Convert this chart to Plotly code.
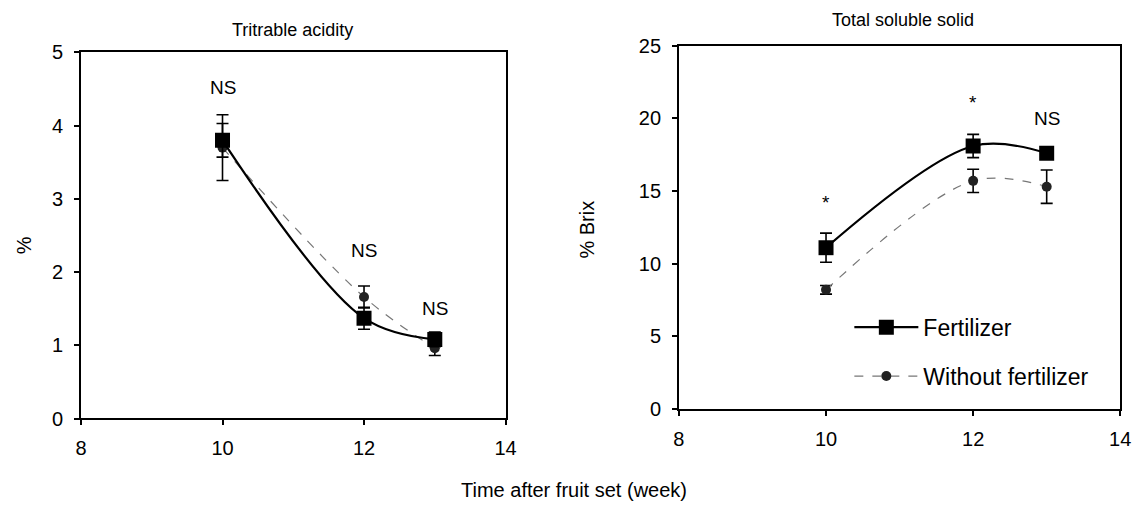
import plotly.graph_objects as go

weeks = [10, 12, 13]

acid_fert = [3.80, 1.37, 1.08]
acid_fert_err = [0.23, 0.15, 0.10]
acid_nofert = [3.70, 1.66, 0.96]
acid_nofert_err = [0.45, 0.15, 0.10]

tss_fert = [11.1, 18.1, 17.6]
tss_fert_err = [1.0, 0.8, 0.3]
tss_nofert = [8.2, 15.7, 15.3]
tss_nofert_err = [0.3, 0.8, 1.15]

acid_sig = ["NS", "NS", "NS"]
acid_sig_y = [4.52, 2.3, 1.5]
tss_sig = ["*", "*", "NS"]
tss_sig_y = [14.2, 21.1, 20.0]

x_ticks = [8, 10, 12, 14]
acid_ticks = [0, 1, 2, 3, 4, 5]
tss_ticks = [0, 5, 10, 15, 20, 25]

FONT = "Arial, Liberation Sans, Helvetica, sans-serif"

# page body has an 8px default margin; size the figure to fit the window
W, H, OFF = 1139, 497, 8


def px(x):
    return (x - OFF) / W


def py(y):
    return 1 - (y - OFF) / H


fig = go.Figure()


def add_series(xa, ya, yv, ev, name, show, kind):
    if kind == "fert":
        line = dict(color="black", width=2.2, shape="spline", smoothing=1)
        marker = dict(symbol="square", size=15, color="black")
    else:
        line = dict(color="#777777", width=1.2, dash="dash", shape="spline", smoothing=1)
        marker = dict(symbol="circle", size=10, color="#222222")
    fig.add_trace(go.Scatter(
        x=weeks, y=yv, mode="lines+markers", name=name, showlegend=show,
        legendgroup=name, xaxis=xa, yaxis=ya, line=line, marker=marker,
        error_y=dict(type="data", array=ev, visible=True, color="black",
                     thickness=1.6, width=6),
    ))


add_series("x", "y", acid_nofert, acid_nofert_err, "Without fertilizer", False, "no")
add_series("x", "y", acid_fert, acid_fert_err, "Fertilizer", False, "fert")
add_series("x2", "y2", tss_fert, tss_fert_err, "Fertilizer", True, "fert")
add_series("x2", "y2", tss_nofert, tss_nofert_err, "Without fertilizer", True, "no")

axis_common = dict(showline=True, linecolor="black", linewidth=1.8, mirror=True,
                   ticks="outside", ticklen=5, tickcolor="black", tickwidth=1.5,
                   showgrid=False, zeroline=False,
                   tickfont=dict(family=FONT, size=20, color="black"))

fig.update_layout(
    width=W, height=H,
    margin=dict(l=0, r=0, t=0, b=0),
    paper_bgcolor="white", plot_bgcolor="white",
    font=dict(family=FONT, color="black"),
    xaxis=dict(domain=[px(76), px(507)], range=[8, 14], tickvals=x_ticks, anchor="y",
               ticklabelstandoff=6, **axis_common),
    yaxis=dict(domain=[py(426), py(43)], range=[0, 5], tickvals=acid_ticks, anchor="x",
               ticklabelstandoff=7, **axis_common),
    xaxis2=dict(domain=[px(683), px(1131)], range=[8, 14], tickvals=x_ticks, anchor="y2",
                ticklabelstandoff=6, **axis_common),
    yaxis2=dict(domain=[py(416), py(36)], range=[0, 25], tickvals=tss_ticks, anchor="x2",
                ticklabelstandoff=7, **axis_common),
    legend=dict(x=px(856), y=py(308), xanchor="left", yanchor="top",
                font=dict(family=FONT, size=23, color="black"),
                bgcolor="rgba(0,0,0,0)", itemwidth=64, tracegroupgap=16),
)

ann = []
for w, t, yv in zip(weeks, acid_sig, acid_sig_y):
    ann.append(dict(x=w, y=yv, xref="x", yref="y", text=t, showarrow=False,
                    xanchor="center", yanchor="middle",
                    font=dict(family=FONT, size=19, color="black")))
for w, t, yv in zip(weeks, tss_sig, tss_sig_y):
    ann.append(dict(x=w, y=yv, xref="x2", yref="y2", text=t, showarrow=False,
                    xanchor="center", yanchor="middle",
                    font=dict(family=FONT, size=19, color="black")))


def label(x, y, text, angle=0, size=19):
    return dict(x=px(x), y=py(y), xref="paper", yref="paper", text=text, textangle=angle,
                showarrow=False, xanchor="center", yanchor="middle",
                font=dict(family=FONT, size=size, color="black"))


ann += [
    label(291, 19, "Tritrable acidity", size=18),
    label(910, 9, "Total soluble solid", size=18),
    label(576, 501, "Time after fruit set (week)", size=20),
    label(18, 245, "%", angle=-90, size=20),
    label(590, 228, "% Brix", angle=-90, size=20),
]
fig.update_layout(annotations=ann)

fig.write_html("out.html")
